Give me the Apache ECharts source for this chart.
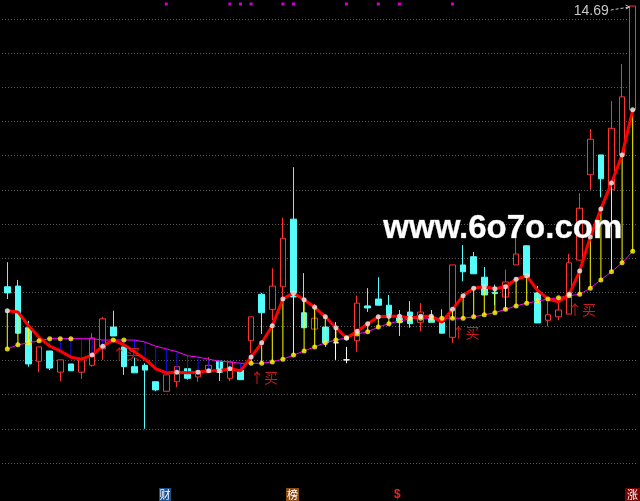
<!DOCTYPE html>
<html><head><meta charset="utf-8">
<script src="https://cdn.jsdelivr.net/npm/echarts@6/dist/echarts.min.js"></script>
<style>html,body{margin:0;padding:0;background:#000;}#c{width:640px;height:501px;}</style>
</head><body><div id="c"></div>
<script>
// ---- data ----
const opens  = [10.58,10.59,9.98,9.49,9.64,9.33,9.45,9.33,9.43,9.67,9.99,9.70,9.41,9.43,9.19,9.05,9.19,9.38,9.26,9.33,9.49,9.24,9.36,9.79,10.47,10.25,10.58,11.57,10.20,9.96,9.99,9.76,9.51,9.79,10.30,10.40,10.31,10.14,10.21,10.06,10.11,10.06,9.84,10.90,11.02,10.72,10.50,10.43,10.90,11.18,10.49,10.09,10.14,10.18,10.97,12.22,12.51,12.00,12.51,13.17];
const closes = [10.49,9.90,9.45,9.70,9.39,9.51,9.35,9.51,9.83,10.11,9.86,9.41,9.32,9.36,9.07,9.29,9.41,9.24,9.35,9.43,9.33,9.48,9.22,10.14,10.20,10.59,11.29,10.43,9.98,10.12,9.76,9.76,9.51,10.34,10.27,10.31,10.15,10.06,10.04,10.21,10.06,9.90,10.90,10.80,10.77,10.46,10.48,10.65,11.06,10.72,10.05,10.17,10.24,10.93,11.73,12.74,12.16,12.90,13.36,14.69];
const lows   = [10.40,9.90,9.41,9.33,9.36,9.20,9.35,9.23,9.41,9.51,9.86,9.29,9.32,8.50,9.05,9.05,9.11,9.22,9.19,9.33,9.20,9.20,9.22,9.61,9.89,10.09,10.43,10.43,9.98,9.96,9.70,9.51,9.46,9.63,10.21,10.31,10.15,9.86,9.98,9.93,10.06,9.90,9.76,10.66,10.77,10.46,10.31,10.30,10.90,10.72,10.05,10.00,10.09,10.18,10.97,12.00,11.89,12.00,12.51,13.17];
const highs  = [10.94,10.68,10.08,9.70,9.64,9.51,9.45,9.51,9.90,10.14,10.23,9.70,9.54,9.46,9.19,9.29,9.41,9.38,9.35,9.55,9.49,9.48,9.36,10.14,10.49,10.85,11.59,12.33,10.78,10.33,9.99,10.06,9.70,10.45,10.56,10.72,10.46,10.24,10.37,10.34,10.24,10.25,10.90,11.19,11.09,10.87,10.61,10.83,11.44,11.19,10.59,10.36,10.34,11.06,11.95,12.89,12.51,13.30,13.84,14.69];
const fastLine = [10.23,10.21,10.01,9.84,9.71,9.64,9.55,9.52,9.58,9.71,9.80,9.73,9.63,9.52,9.38,9.32,9.33,9.32,9.33,9.35,9.35,9.38,9.35,9.55,9.76,10.01,10.40,10.49,10.39,10.28,10.14,9.98,9.83,9.93,10.04,10.14,10.15,10.15,10.12,10.15,10.15,10.06,10.25,10.45,10.56,10.58,10.55,10.58,10.69,10.74,10.53,10.40,10.36,10.47,10.81,11.31,11.72,12.10,12.51,13.17];
const slowLine = [9.67,9.73,9.76,9.79,9.82,9.82,9.82,9.82,9.82,9.80,9.80,9.80,9.80,9.77,9.71,9.67,9.63,9.57,9.55,9.52,9.49,9.48,9.46,9.46,9.46,9.48,9.52,9.58,9.64,9.70,9.76,9.80,9.83,9.89,9.92,9.99,10.04,10.08,10.11,10.12,10.12,10.12,10.12,10.12,10.14,10.17,10.20,10.25,10.30,10.34,10.37,10.40,10.42,10.45,10.47,10.56,10.68,10.80,10.93,11.10];
const whiteDotIdx = [0,8,9,16,18,19,20,21,23,24,25,26,27,28,29,30,31,32,33,34,35,36,37,38,39,40,42,43,44,45,46,47,48,49,53,54,55,56,57,58,59];
const yellowDotIdx = [0,1,2,3,4,5,6,10,11,23,24,25,26,27,28,29,30,31,32,33,34,35,36,37,38,39,40,41,42,43,44,45,46,47,48,49,50,51,52,53,54,55,56,57,58,59];
const buyIdx = [10,23,42,53];
const topFlagIdx = [15,21,22,23,26,27,32,35,37,42];
const topFlagPrice = 14.72;
const yMin = 8, yMax = 14.5, yStep = 0.5;
const categories = opens.map((_, i) => String(i + 1));

const candleData = opens.map((o, i) => [o, closes[i], lows[i], highs[i]]);
const linkData = fastLine.map((f, i) => [i, f, slowLine[i]]);

const chart = echarts.init(document.getElementById('c'), null, {renderer: 'canvas'});
chart.setOption({
  backgroundColor: '#000000',
  animation: false,
  grid: {left: 2, right: 2, top: 19, bottom: 38, containLabel: false},
  xAxis: {type: 'category', data: categories, boundaryGap: true,
    axisLine: {show: false}, axisTick: {show: false}, axisLabel: {show: false}, splitLine: {show: false}},
  yAxis: {type: 'value', min: yMin, max: yMax, interval: yStep,
    axisLine: {show: false}, axisTick: {show: false}, axisLabel: {show: false},
    splitLine: {show: true, lineStyle: {color: '#5c5c5c', type: [1, 2], width: 1}}},
  series: [
    {type: 'candlestick', data: candleData, barWidth: 6, clip: false, z: 2,
      itemStyle: {color: '#000000', color0: '#54fcfc', borderColor: '#ff3232', borderColor0: '#54fcfc',
        borderColorDoji: '#ffffff', borderWidth: 1}},
    {type: 'custom', data: linkData, clip: false, z: 3,
      encode: {x: 0, y: [1, 2]},
      renderItem: function (params, api) {
        const i = api.value(0), f = api.value(1), s = api.value(2);
        const a = api.coord([i, f]), b = api.coord([i, s]);
        return {type: 'line', shape: {x1: a[0], y1: a[1], x2: b[0], y2: b[1]},
          style: {stroke: f >= s ? '#ffff00' : '#1010ff', lineWidth: 1}};
      }},
    {type: 'line', data: slowLine, symbol: 'none', clip: false, z: 4,
      lineStyle: {color: '#ff00ff', width: 1}},
    {type: 'line', data: fastLine, symbol: 'none', clip: false, z: 5,
      lineStyle: {color: '#ff0000', width: 3}},
    {type: 'scatter', data: yellowDotIdx.map(i => [i, slowLine[i]]), symbol: 'circle', symbolSize: 5,
      clip: false, z: 6, itemStyle: {color: '#ffff00'}},
    {type: 'scatter', data: whiteDotIdx.map(i => [i, fastLine[i]]), symbol: 'circle', symbolSize: 5,
      clip: false, z: 6, itemStyle: {color: '#e6f8f8'}},
    {type: 'scatter', data: topFlagIdx.map(i => [i, topFlagPrice]), symbol: 'rect', symbolSize: 3,
      clip: false, z: 6, itemStyle: {color: '#ff00ff'}},
    {type: 'scatter', data: buyIdx.map(i => [i, slowLine[i]]), symbol: 'circle', symbolSize: 0,
      clip: false, z: 7, silent: true,
      label: {show: true, formatter: '↑买', position: [-1, 7], color: '#ff2020',
        fontSize: 14, fontFamily: '"Noto Sans CJK SC", sans-serif'}}
  ]
});

// label for highest price with dashed arrow
let hi = 0;
highs.forEach((h, i) => { if (h > highs[hi]) hi = i; });
const hp = chart.convertToPixel({xAxisIndex: 0, yAxisIndex: 0}, [hi, highs[hi]]);
const hx = hp[0], hy = hp[1];
chart.setOption({
  graphic: [
    {type: 'text', x: hx - 24, y: hy + 5, z: 20,
      style: {text: highs[hi].toFixed(2), fill: '#c8c8c8', align: 'right', verticalAlign: 'middle',
        font: '14px "Liberation Sans Narrow", "Liberation Sans", sans-serif'}},
    {type: 'line', z: 20, shape: {x1: hx - 22, y1: hy + 4, x2: hx - 3, y2: hy + 1},
      style: {stroke: '#c8c8c8', lineWidth: 1, lineDash: [3, 2]}},
    {type: 'polyline', z: 20, shape: {points: [[hx - 7, hy - 1], [hx - 3, hy + 1], [hx - 7, hy + 3]]},
      style: {stroke: '#c8c8c8', lineWidth: 1, fill: null}},
    {type: 'text', left: 383, top: 212, z: 30,
      style: {text: 'www.6o7o.com', fill: '#ffffff', stroke: '#9a9a9a', lineWidth: 0.6,
        font: 'bold 33px "Liberation Sans", Arial, sans-serif'}},
    {type: 'group', left: 159, top: 488, z: 30, children: [
      {type: 'rect', shape: {x: 0, y: 0, width: 12, height: 13}, style: {fill: '#1b4f8e'}},
      {type: 'text', x: 6, y: 7, style: {text: '财', fill: '#ffffff', align: 'center', verticalAlign: 'middle',
        font: '11px "Noto Sans CJK SC", sans-serif'}}]},
    {type: 'group', left: 286, top: 488, z: 30, children: [
      {type: 'rect', shape: {x: 0, y: 0, width: 13, height: 13}, style: {fill: '#8a4b12'}},
      {type: 'text', x: 6.5, y: 7, style: {text: '榜', fill: '#ffffff', align: 'center', verticalAlign: 'middle',
        font: '11px "Noto Sans CJK SC", sans-serif'}}]},
    {type: 'text', left: 394, top: 489, z: 30,
      style: {text: '$', fill: '#ff1a1a', font: 'bold 12px "Liberation Sans", sans-serif'}},
    {type: 'group', left: 625, top: 488, z: 30, children: [
      {type: 'rect', shape: {x: 0, y: 0, width: 15, height: 13}, style: {fill: '#7a0000'}},
      {type: 'text', x: 7.5, y: 7, style: {text: '涨', fill: '#ffffff', align: 'center', verticalAlign: 'middle',
        font: '11px "Noto Sans CJK SC", sans-serif'}}]}
  ]
});
</script></body></html>
